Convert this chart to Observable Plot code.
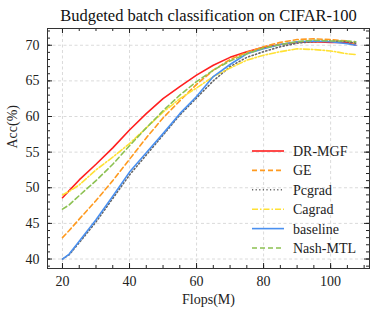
<!DOCTYPE html>
<html>
<head>
<meta charset="utf-8">
<script src="https://cdn.jsdelivr.net/npm/d3@7"></script>
<script src="https://cdn.jsdelivr.net/npm/@observablehq/plot@0.6"></script>
<style>
html,body{margin:0;padding:0;background:#fff;}
svg{display:block;}
</style>
</head>
<body>
<div id="chart"></div>
<script>
const flops = [20, 22, 25, 30, 35, 40, 45, 50, 55, 60, 65, 70, 75, 80, 85, 90, 95, 100, 105, 107.5];
const drmgf    = [48.6,49.6,51.1,53.3,55.6,58.1,60.4,62.5,64.2,65.8,67.2,68.3,69.1,69.7,70.1,70.4,70.5,70.4,70.4,70.0];
const ge       = [43.0,44.0,45.6,48.2,51.0,54.0,57.0,59.8,62.2,64.5,66.5,68.0,69.0,69.8,70.4,70.8,70.9,70.8,70.6,70.2];
const pcgrad   = [40.0,40.6,42.3,45.2,48.5,51.8,54.6,57.4,60.2,62.6,65.0,67.0,68.3,69.1,69.8,70.3,70.5,70.6,70.5,70.3];
const cagrad   = [49.0,49.5,50.4,52.5,54.3,56.2,58.4,60.6,62.5,64.0,65.6,66.8,67.9,68.6,69.1,69.5,69.4,69.2,68.8,68.7];
const baseline = [40.0,40.7,42.5,45.5,48.8,52.2,54.9,57.6,60.4,62.8,65.6,67.3,68.8,69.5,70.1,70.5,70.6,70.5,70.2,70.0];
const nash     = [47.0,47.6,48.9,51.0,53.3,55.9,58.4,60.8,63.0,64.9,66.5,67.8,68.8,69.6,70.1,70.5,70.7,70.6,70.6,70.5];

const seriesNames = ["DR-MGF","GE","Pcgrad","Cagrad","baseline","Nash-MTL"];
const seriesValues = [drmgf, ge, pcgrad, cagrad, baseline, nash];
const colors = ["#ff1f1f","#ff9a1f","#666666","#ffe135","#4a90f0","#8cc152"];
const dashes = [null,"5,3","1.2,2.4","6,2,1.5,2",null,"5,3"];

const xTicks = [20,40,60,80,100];
const yTicks = [40,45,50,55,60,65,70];
const xMinor = d3.range(15, 112, 5).filter(v => v >= 15.6 && v <= 111.5);
const yMinor = d3.range(39, 73, 1);

const title = "Budgeted batch classification on CIFAR-100";
const xLabel = "Flops(M)";
const yLabel = "Acc(%)";

const W = 375, H = 314;
const mt = 28, mb = 46, ml = 47, mr = 6;
const ph = H - mt - mb;

const seriesMarks = seriesNames.map((name, i) => {
  const data = flops.map((f, j) => ({x: f, y: seriesValues[i][j]}));
  return Plot.line(data, {x: "x", y: "y", stroke: colors[i], strokeWidth: 1.6,
    strokeDasharray: dashes[i] || undefined});
});

const font = "'Liberation Serif', 'Times New Roman', serif";

const chart = Plot.plot({
  width: W, height: H,
  marginTop: mt, marginBottom: mb, marginLeft: ml, marginRight: mr,
  style: {fontFamily: font, fontSize: "14px", color: "#222", background: "#fff"},
  x: {domain: [15.53, 111.6], label: null},
  y: {domain: [38.67, 72.35], label: null},
  marks: [
    Plot.gridX(xTicks, {stroke: "#d0d0d0", strokeOpacity: 1, strokeDasharray: "3,2.5", strokeWidth: 0.8}),
    Plot.gridY(yTicks, {stroke: "#d0d0d0", strokeOpacity: 1, strokeDasharray: "3,2.5", strokeWidth: 0.8}),
    ...seriesMarks,
    Plot.tickX(xTicks, {x: d => d, insetTop: ph - 5, stroke: "#222"}),
    Plot.tickX(xTicks, {x: d => d, insetBottom: ph - 5, stroke: "#222"}),
    Plot.tickX(xMinor, {x: d => d, insetTop: ph - 3, stroke: "#222"}),
    Plot.tickX(xMinor, {x: d => d, insetBottom: ph - 3, stroke: "#222"}),
    Plot.tickY(yTicks, {y: d => d, insetRight: (W - ml - mr) - 5, stroke: "#222"}),
    Plot.tickY(yTicks, {y: d => d, insetLeft: (W - ml - mr) - 5, stroke: "#222"}),
    Plot.tickY(yMinor, {y: d => d, insetRight: (W - ml - mr) - 3, stroke: "#222"}),
    Plot.tickY(yMinor, {y: d => d, insetLeft: (W - ml - mr) - 3, stroke: "#222"}),
    Plot.axisX(xTicks, {tickSize: 0, tickPadding: 8, fontSize: 14, fill: "#222"}),
    Plot.axisY(yTicks, {tickSize: 0, tickPadding: 8, fontSize: 14, fill: "#222"}),
    Plot.frame({stroke: "#333", strokeWidth: 1}),
    Plot.text([title], {frameAnchor: "top", dy: -19, fontSize: 16.5, fill: "#111"}),
    Plot.text([xLabel], {frameAnchor: "bottom", dy: 35, fontSize: 14, fill: "#222"}),
    Plot.text([yLabel], {frameAnchor: "left", dx: -35, rotate: -90, fontSize: 14, fill: "#222"})
  ]
});

document.getElementById("chart").appendChild(chart);

const svg = d3.select(chart);
const lg = svg.append("g").attr("font-family", font).attr("font-size", 14).attr("text-anchor", "start");
const lx0 = 252, lx1 = 284, ltx = 293, ly0 = 151, ldy = 19.4;
seriesNames.forEach((name, i) => {
  const y = ly0 + i * ldy;
  lg.append("line").attr("x1", lx0).attr("x2", lx1).attr("y1", y).attr("y2", y)
    .attr("stroke", colors[i]).attr("stroke-width", 1.6)
    .attr("stroke-dasharray", dashes[i] || null);
  lg.append("text").attr("x", ltx).attr("y", y).attr("dy", "0.35em")
    .attr("text-anchor", "start").attr("fill", "#222").text(name);
});
</script>
</body>
</html>
